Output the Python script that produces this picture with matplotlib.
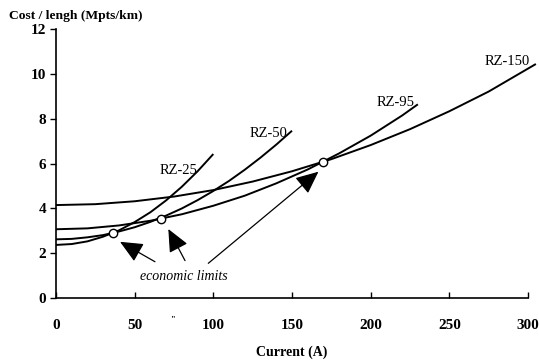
import matplotlib
matplotlib.use("Agg")
import matplotlib.pyplot as plt
from matplotlib.patches import FancyArrowPatch

plt.rcParams['font.family'] = ['Liberation Serif', 'DejaVu Serif']

# Data
current_rz25 = [0, 10, 20, 30, 40, 50, 60, 70, 80, 90, 100]
cost_rz25 = [2.37, 2.41, 2.53, 2.74, 3.02, 3.39, 3.83, 4.36, 4.97, 5.66, 6.43]

current_rz50 = [0, 10, 20, 30, 40, 50, 60, 70, 80, 90, 100, 110, 120, 130, 140, 150]
cost_rz50 = [2.62, 2.64, 2.71, 2.81, 2.97, 3.16, 3.40, 3.68, 4.00, 4.37, 4.78, 5.23,
             5.73, 6.27, 6.85, 7.47]

current_rz95 = [0, 20, 40, 60, 80, 100, 120, 140, 160, 180, 200, 220, 230]
cost_rz95 = [3.07, 3.11, 3.24, 3.45, 3.74, 4.12, 4.57, 5.12, 5.74, 6.46, 7.25, 8.15, 8.65]

current_rz150 = [0, 25, 50, 75, 100, 125, 150, 175, 200, 225, 250, 275, 305]
cost_rz150 = [4.15, 4.19, 4.32, 4.53, 4.82, 5.2, 5.66, 6.2, 6.83, 7.54, 8.34, 9.22, 10.45]

series_labels = ["RZ-25", "RZ-50", "RZ-95", "RZ-150"]
label_pos = [(77.6, 5.68), (135, 7.35), (216, 8.72), (287, 10.55)]

limit_current = [36.4, 66.8, 170]
limit_cost = [2.9, 3.55, 6.09]

x_ticks = [0, 50, 100, 150, 200, 250, 300]
y_ticks = [0, 2, 4, 6, 8, 10, 12]

fig = plt.figure(figsize=(5.39, 3.6), dpi=100)
ax = fig.add_axes([56/539, 62/360, 472/539, 268.7/360])

for xs, ys in [(current_rz25, cost_rz25), (current_rz50, cost_rz50),
               (current_rz95, cost_rz95), (current_rz150, cost_rz150)]:
    ax.plot(xs, ys, color='black', lw=1.4, clip_on=False, solid_capstyle='butt')

for lab, (lx, ly) in zip(series_labels, label_pos):
    ax.text(lx, ly, lab, ha='center', va='center', fontsize=10.5)

ax.plot(limit_current, limit_cost, 'o', ms=6, mfc='white', mec='black', mew=1.0,
        clip_on=False, zorder=5)

ax.text(81, 0.95, "economic limits", ha='center', va='center', fontsize=10, style='italic')

arrows = [((62.9, 1.62), (40.7, 2.51)), ((82, 1.67), (71.4, 3.08)), ((96.8, 1.55), (166.8, 5.64))]
for (sx, sy), (ex, ey) in arrows:
    ap = FancyArrowPatch((sx, sy), (ex, ey), arrowstyle="-|>,head_length=1.0,head_width=0.45",
                         mutation_scale=14, color='black', lw=0.9, shrinkA=0, shrinkB=0)
    ax.add_patch(ap)

ax.set_xlim(0, 300)
ax.set_ylim(0, 12)
ax.spines['top'].set_visible(False)
ax.spines['right'].set_visible(False)
ax.spines['left'].set_linewidth(1.2)
ax.spines['bottom'].set_linewidth(1.2)
ax.set_xticks(x_ticks)
ax.set_yticks(y_ticks)
ax.tick_params(axis='x', direction='in', length=4, width=1, pad=15, labelsize=11)
ax.tick_params(axis='y', direction='out', length=4, width=1, pad=3, labelsize=11)
for t in ax.get_xticklabels() + ax.get_yticklabels():
    t.set_fontweight('bold')

ax.set_xlabel("Current (A)", fontsize=10, fontweight='bold', labelpad=10)
fig.text(9/539, 1 - 16/360, "Cost / lengh (Mpts/km)", ha='left', va='center',
         fontsize=9.7, fontweight='bold')
ax.text(74, -1.0, '"', ha='center', va='center', fontsize=6, fontweight='bold')

fig.savefig("out.png", dpi=100)
